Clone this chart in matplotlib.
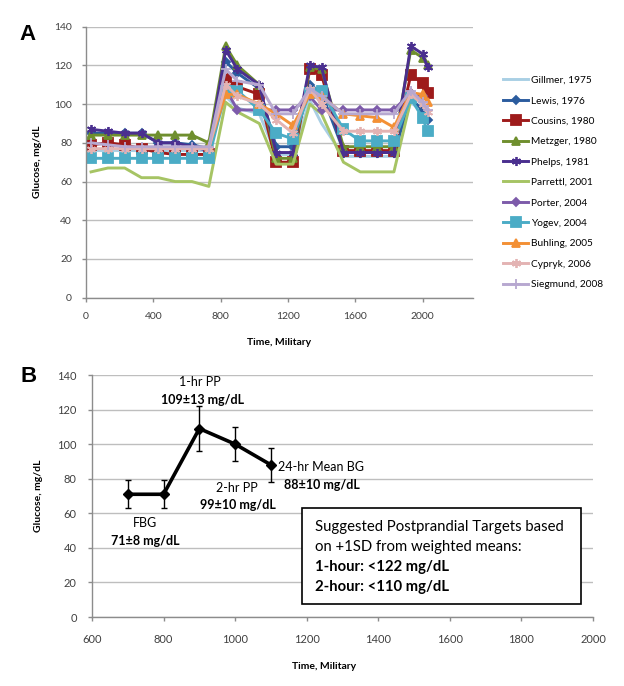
import numpy as np
import matplotlib
matplotlib.use("Agg")
import matplotlib.pyplot as plt
from matplotlib.patches import Rectangle
from matplotlib.lines import Line2D

plt.rcParams['font.family'] = ['Lato', 'DejaVu Sans']

nan = np.nan
# ---------------- Panel A data ----------------
times = [30, 130, 230, 330, 430, 530, 630, 730, 830, 900, 1030, 1130, 1230,
         1330, 1400, 1530, 1630, 1730, 1830, 1930, 2000, 2030]

gillmer = [76, 76, 76, 76, 76, 76, 76, 76, 104, 98, 95, 74, 74, 102, 90, 73, 73, 73, 73, 101, 96, 91]
lewis = [85, 85, 85, 85, 80, 80, 79, 77, 122, 116, 108, 78, 78, 110, 106, 76, 75, 75, 75, 103, 97, 92]
cousins = [79, 80, 79, 77, 75, 74, 74, 74, 113, 109, 105, 70, 70, 118, 115, 76, 76, 76, 76, 115, 111, 106]
metzger = [84, 84, 84, 84, 84, 84, 84, 80, 130, 120, 110, 72, 72, 119, 118, 78, 78, 78, 78, 128, 124, 120]
phelps = [87, 86, 85, 85, 80, 80, 78, 76, 128, 118, 110, 75, 75, 120, 119, 75, 75, 75, 75, 130, 126, 119]
parrettl = [65, 67, 67, 62, 62, 60, 60, 57.5, 101, 96, 90, 69, 69, 100, 95, 70, 65, 65, 65, 102, nan, nan]
porter = [nan, nan, nan, nan, nan, nan, nan, 76, 108, 97, 97, 97, 97, 104, 97, 97, 97, 97, 97, 106, 104, nan]
yogev = [72, 72, 72, 72, 72, 72, 72, 72, 107, 107, 97, 85, 82, 106, 107, 87, 81, 81, 81, 103, 93, 86]
buhling = [nan, nan, nan, nan, nan, nan, nan, 78, 105, 105, 100, 95, 89, 105, 104, 95, 94, 93, 88, 106, 105, 101]
cypryk = [77, 77, 77, 77, 77, 77, 77, 77, 110, 104, 100, 92, 85, 108, 100, 86, 86, 86, 86, 105, 100, 96]
siegmund = [80, 79, 78, 78, 78, 78, 78, 78, 118, 112, 110, 95, 95, 108, 104, 95, 95, 95, 95, 107, 101, 97]

study_labels = ["Gillmer, 1975", "Lewis, 1976", "Cousins, 1980", "Metzger, 1980",
                "Phelps, 1981", "Parrettl, 2001", "Porter, 2004", "Yogev, 2004",
                "Buhling, 2005", "Cypryk, 2006", "Siegmund, 2008"]

# ---------------- Panel B data ----------------
b_times = [700, 800, 900, 1000, 1100]
b_means = [71, 71, 109, 100, 88]
b_sd = [8, 8, 13, 10, 10]

# ---------------- styles ----------------
series = [gillmer, lewis, cousins, metzger, phelps, parrettl, porter, yogev, buhling, cypryk, siegmund]
colors = ['#A9CFE4', '#2B5C9E', '#9E1B1B', '#6F8F2E', '#4A2F8F', '#A6C464',
          '#7D5BAA', '#4BACC6', '#F39035', '#E3B3B3', '#B7A8D0']
markers = [None, 'D', 's', '^', (6, 2, 0), None, 'D', 's', '^', (6, 2, 0), '+']
msizes = [0, 4.5, 7, 5.5, 6.5, 0, 4.5, 7, 5.5, 6.5, 6.5]

W, H = 624, 686
fig = plt.figure(figsize=(W / 100, H / 100), dpi=100)

def fx(px):
    return px / W

def fy(py):
    return 1 - py / H

grid_c = '#BEBEBE'
axis_c = '#8C8C8C'
tick_c = '#404040'

def style_axes(ax, fs):
    for s in ['top', 'right']:
        ax.spines[s].set_visible(False)
    for s in ['left', 'bottom']:
        ax.spines[s].set_color(axis_c)
        ax.spines[s].set_linewidth(1.0)
    ax.grid(axis='y', color=grid_c, linewidth=1.0)
    ax.set_axisbelow(True)
    ax.tick_params(axis='both', colors=axis_c, labelcolor=tick_c, labelsize=fs,
                   length=3, width=1, direction='out')

# ---------------- Panel A ----------------
axA = fig.add_axes([fx(86), fy(297.7), fx(473) - fx(86), fy(26.7) - fy(297.7)])
style_axes(axA, 7.5)
for vals, c, m, ms in zip(series, colors, markers, msizes):
    axA.plot(times, vals, color=c, linewidth=2.1, marker=m, markersize=ms,
             markeredgecolor=c, markerfacecolor=c, markeredgewidth=1.3)
axA.set_xlim(0, 2300)
axA.set_ylim(0, 140)
axA.set_xticks(np.arange(0, 2001, 400))
axA.set_yticks(np.arange(0, 141, 20))
axA.tick_params(axis='x', pad=7)
axA.tick_params(axis='y', pad=7)
axA.set_xlabel("Time, Military", fontsize=7.5, fontweight='bold', color='black')
axA.xaxis.set_label_coords(0.5, -0.149)
axA.set_ylabel("Glucose, mg/dL", fontsize=7.5, fontweight='bold', color='black')
axA.yaxis.set_label_coords(-0.114, 0.5)

handles = [Line2D([0], [0], color=c, linewidth=2.1, marker=m, markersize=ms,
                  markeredgecolor=c, markerfacecolor=c, markeredgewidth=1.3)
           for c, m, ms in zip(colors, markers, msizes)]
fig.legend(handles, study_labels, loc='center left', bbox_to_anchor=(fx(503), fy(182.5)),
           frameon=False, fontsize=7.3, handlelength=2.5, handletextpad=0.25,
           labelspacing=1.12, borderpad=0, borderaxespad=0)

fig.text(fx(28), fy(34), "A", fontsize=16, fontweight='bold', ha='center', va='center',
         family=['Liberation Sans', 'DejaVu Sans'])

# ---------------- Panel B ----------------
axB = fig.add_axes([fx(92), fy(617), fx(593) - fx(92), fy(375) - fy(617)])
style_axes(axB, 8)
axB.errorbar(b_times, b_means, yerr=b_sd, color='black', linewidth=2.6, marker='D',
             markersize=5, ecolor='black', elinewidth=1.0, capsize=2.5, capthick=1.0)
axB.set_xlim(600, 2000)
axB.set_ylim(0, 140)
axB.set_xticks(np.arange(600, 2001, 200))
axB.set_yticks(np.arange(0, 141, 20))
axB.tick_params(axis='x', pad=9)
axB.tick_params(axis='y', pad=8)
axB.set_xlabel("Time, Military", fontsize=7.5, fontweight='bold', color='black')
axB.xaxis.set_label_coords((324.5 - 92) / 501, -0.186)
axB.set_ylabel("Glucose, mg/dL", fontsize=7.5, fontweight='bold', color='black')
axB.yaxis.set_label_coords(-0.098, 0.5)

fs_ann = 9
axB.text(902, 135.7, "1-hr PP", fontsize=fs_ann, ha='center', va='center')
axB.text(910, 125.7, "109±13 mg/dL", fontsize=fs_ann, fontweight='bold', ha='center', va='center')
axB.text(1240, 86.5, "24-hr Mean BG", fontsize=fs_ann, ha='center', va='center')
axB.text(1243, 76.1, "88±10 mg/dL", fontsize=fs_ann, fontweight='bold', ha='center', va='center')
axB.text(1005, 74.7, "2-hr PP", fontsize=fs_ann, ha='center', va='center')
axB.text(1008, 64.9, "99±10 mg/dL", fontsize=fs_ann, fontweight='bold', ha='center', va='center')
axB.text(748, 54.5, "FBG", fontsize=fs_ann, ha='center', va='center')
axB.text(748, 44.0, "71±8 mg/dL", fontsize=fs_ann, fontweight='bold', ha='center', va='center')

box = Rectangle((fx(301.7), fy(604)), fx(581) - fx(301.7), fy(508.3) - fy(604),
                transform=fig.transFigure, facecolor='white', edgecolor='black',
                linewidth=1.2, zorder=5)
fig.add_artist(box)
box_lines = [("Suggested Postprandial Targets based", 'normal', 526.7),
             ("on +1SD from weighted means:", 'normal', 546.7),
             ("1-hour: <122 mg/dL", 'bold', 567.3),
             ("2-hour: <110 mg/dL", 'bold', 586.7)]
for txt, wt, py in box_lines:
    fig.text(fx(315), fy(py), txt, fontsize=10.7, fontweight=wt, ha='left', va='center', zorder=6)

fig.text(fx(29), fy(377), "B", fontsize=16, fontweight='bold', ha='center', va='center',
         family=['Liberation Sans', 'DejaVu Sans'])

fig.savefig("out.png", dpi=100)
